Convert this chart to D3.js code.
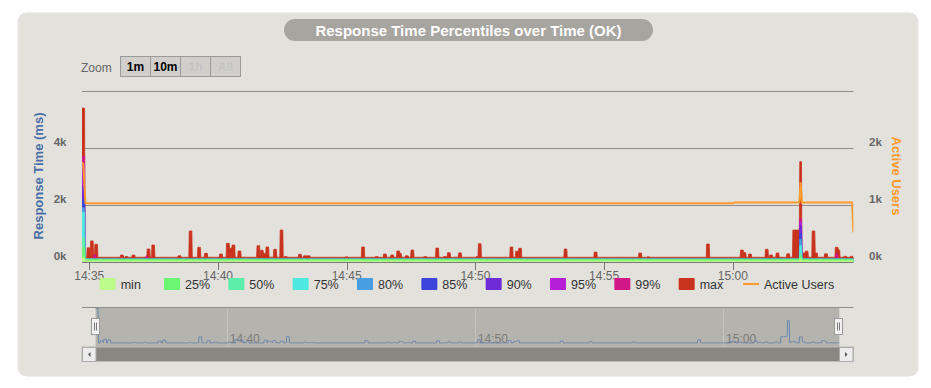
<!DOCTYPE html>
<html>
<head>
<meta charset="utf-8">
<script src="https://cdn.jsdelivr.net/npm/d3@7"></script>
<style>
  body { margin: 0; background: #fff; font-family: "Liberation Sans", Arial, sans-serif; }
</style>
</head>
<body>
<div id="chart"></div>
<script>
// Response time percentiles (ms) per second
const startClock = [14, 34, 43];
const durationSec = 1798;

const percentileNames = ["min", "25%", "50%", "75%", "80%", "85%", "90%", "95%", "99%", "max"];
const percentileColors = ["#bbfb8b", "#6cf573", "#5eeeab", "#4de9e0", "#479fe2", "#3b45dd", "#6e2bd7", "#b51fd5", "#d11889", "#c9321c"];
const usersColor = "#ff9a2e";

// quiet level of each percentile between bursts
const baseline = [40, 100, 100, 100, 102, 104, 106, 108, 112, 165];
// burst at the very start (seconds 0..6) and at ~15:02:38
const startBurst = [150, 500, 870, 1750, 1900, 2200, 2650, 3400, 3700, 5400];
const lateBurst = [100, 200, 300, 580, 800, 1000, 1280, 1400, 1520, 3520];
const startBurstSecs = [0, 6];
const lateBurstSecs = [1673, 1677];

// max spikes: seconds after start, ms
const maxSpikeTimes = [15, 23, 33, 93, 104, 120, 155, 166, 227, 253, 273, 289, 324, 340, 347, 353, 367, 378,
  411, 419, 424, 432, 441, 450, 456, 465, 475, 508, 520, 528, 617, 646, 655, 687, 706, 723, 737, 741, 757,
  770, 782, 800, 828, 846, 855, 870, 881, 922, 927, 986, 1001, 1014, 1021, 1109, 1127, 1197, 1301, 1320,
  1365, 1417, 1438, 1459, 1538, 1544, 1557, 1596, 1606, 1621, 1646, 1660, 1665, 1670, 1683, 1689, 1705,
  1711, 1734, 1759, 1763, 1779, 1794];
const maxSpikeValues = [500, 740, 620, 245, 190, 245, 456, 597, 222, 1088, 515, 305, 280, 655, 480, 597, 386, 170,
  573, 410, 300, 527, 170, 445, 170, 1123, 190, 270, 220, 220, 180, 160, 527, 190, 280, 245, 386, 300, 220,
  420, 160, 190, 490, 190, 327, 170, 320, 190, 643, 170, 527, 375, 480, 150, 456, 350, 315, 180,
  160, 160, 160, 632, 420, 330, 280, 445, 245, 315, 290, 1120, 1120, 1120, 315, 380, 1088,
  315, 290, 515, 420, 200, 200];
// small 99% blips
const p99BlipTimes = [30, 151, 1759];
const p99BlipValues = [260, 200, 300];

// active users
const userTimes = [0, 3, 8, 1518, 1522, 1672, 1675, 1678, 1795, 1798];
const userValues = [1750, 1720, 1030, 1030, 1045, 1045, 1400, 1045, 1045, 520];

const leftTicks = [0, 2000, 4000, 6000];
const rightTicks = [0, 1000, 2000, 3000];
const zoomButtons = ["1m", "10m", "1h", "All"];
const zoomEnabled = [true, true, false, false];

// ---------- build series ----------
const t0 = new Date(2024, 0, 1, startClock[0], startClock[1], startClock[2]);
const toDate = s => new Date(t0.getTime() + s * 1000);

const series = percentileNames.map((n, i) => d3.range(durationSec + 1).map(() => baseline[i]));
function setAt(i, s, v) {
  if (s >= 0 && s <= durationSec) series[i][s] = Math.max(series[i][s], v);
}
maxSpikeTimes.forEach((t, k) => {
  for (let d = -3; d <= 3; d++) setAt(9, t + d, maxSpikeValues[k]);
});
p99BlipTimes.forEach((t, k) => {
  for (let d = -2; d <= 2; d++) setAt(8, t + d, p99BlipValues[k]);
});
[[startBurstSecs, startBurst], [lateBurstSecs, lateBurst]].forEach(([secs, vals]) => {
  for (let s = secs[0]; s <= secs[1]; s++) vals.forEach((v, i) => setAt(i, s, v));
});

// ---------- layout ----------
const W = 931, H = 388;
const plot = { left: 82, right: 853.4, top: 91, bottom: 262 };
const nav = { left: 82, right: 853.4, top: 307.5, bottom: 347, maskL: 95.6, maskR: 839.3 };

const svg = d3.select("#chart").append("svg")
  .attr("width", W).attr("height", H)
  .style("font-family", "'Liberation Sans', Arial, sans-serif");

// container box
svg.append("rect")
  .attr("x", 17.5).attr("y", 12.5).attr("width", 901).attr("height", 364)
  .attr("rx", 9).attr("fill", "#e2e1dc");

// title pill
const title = "Response Time Percentiles over Time (OK)";
svg.append("rect")
  .attr("x", 284).attr("y", 19).attr("width", 369).attr("height", 22)
  .attr("rx", 11).attr("fill", "#a7a59f");
svg.append("text")
  .attr("x", 468.5).attr("y", 35.5).attr("text-anchor", "middle")
  .attr("fill", "#fff").attr("font-weight", "bold").attr("font-size", "15px")
  .text(title);

// zoom buttons
svg.append("text").attr("x", 81).attr("y", 72).attr("fill", "#666").attr("font-size", "12px").text("Zoom");
const btnX = d3.scaleBand().domain(zoomButtons).range([120.5, 240.5]);
const btn = svg.append("g").selectAll("g").data(zoomButtons).join("g");
btn.append("rect")
  .attr("x", d => btnX(d)).attr("y", 56.5).attr("width", btnX.bandwidth()).attr("height", 20)
  .attr("fill", "#d0cfcb").attr("stroke", "#9a9a9a");
btn.append("text")
  .attr("x", d => btnX(d) + btnX.bandwidth() / 2).attr("y", 71)
  .attr("text-anchor", "middle").attr("font-size", "12px").attr("font-weight", "bold")
  .attr("fill", (d, i) => zoomEnabled[i] ? "#000" : "#c4c4c4")
  .text(d => d);

// ---------- scales ----------
const x = d3.scaleTime().domain([t0, toDate(durationSec)]).range([plot.left, plot.right]);
const yL = d3.scaleLinear().domain([0, 6000]).range([plot.bottom, plot.top]);
const yR = d3.scaleLinear().domain([0, 3000]).range([plot.bottom, plot.top]);

// gridlines
svg.append("g").selectAll("line").data(leftTicks.slice(1)).join("line")
  .attr("x1", plot.left).attr("x2", plot.right)
  .attr("y1", d => Math.round(yL(d)) + 0.5).attr("y2", d => Math.round(yL(d)) + 0.5)
  .attr("stroke", "#8c8c8c");

// left / right tick labels
svg.append("g").selectAll("text").data(leftTicks.slice(0, 3)).join("text")
  .attr("x", 66.5).attr("y", d => yL(d) - 2).attr("text-anchor", "end")
  .attr("font-size", "11.5px").attr("font-weight", "bold").attr("fill", "#666")
  .text(d => d / 1000 + "k");
svg.append("g").selectAll("text").data(rightTicks.slice(0, 3)).join("text")
  .attr("x", 869).attr("y", d => yR(d) - 2)
  .attr("font-size", "11.5px").attr("font-weight", "bold").attr("fill", "#666")
  .text(d => d / 1000 + "k");

// axis titles
svg.append("text")
  .attr("transform", "translate(43,176) rotate(-90)").attr("text-anchor", "middle")
  .attr("font-size", "13px").attr("font-weight", "bold").attr("fill", "#4a6fa5")
  .text("Response Time (ms)");
svg.append("text")
  .attr("transform", "translate(892,176) rotate(90)").attr("text-anchor", "middle")
  .attr("font-size", "13px").attr("font-weight", "bold").attr("fill", usersColor)
  .text("Active Users");

// ---------- series ----------
svg.append("clipPath").attr("id", "plotClip").append("rect")
  .attr("x", plot.left).attr("y", plot.top - 30).attr("width", plot.right - plot.left).attr("height", plot.bottom - plot.top + 30);
const g = svg.append("g").attr("clip-path", "url(#plotClip)");

const area = d3.area()
  .x((d, s) => x(toDate(s)))
  .y0(yL(0))
  .y1(d => yL(d));

for (let i = series.length - 1; i >= 0; i--) {
  g.append("path").datum(series[i])
    .attr("d", area)
    .attr("fill", percentileColors[i])
    .attr("stroke", percentileColors[i]).attr("stroke-width", 0.8);
}

const usersLine = d3.line()
  .x((d, k) => x(toDate(userTimes[k])))
  .y(d => yR(d));
g.append("path").datum(userValues)
  .attr("d", usersLine)
  .attr("fill", "none").attr("stroke", usersColor).attr("stroke-width", 2);

// x axis
svg.append("line")
  .attr("x1", plot.left).attr("x2", plot.right).attr("y1", plot.bottom + 0.5).attr("y2", plot.bottom + 0.5)
  .attr("stroke", "#777");
const xTicks = x.ticks(d3.timeMinute.every(5));
const fmt = d3.timeFormat("%H:%M");
const xt = svg.append("g").selectAll("g").data(xTicks).join("g");
xt.append("line")
  .attr("x1", d => Math.round(x(d)) + 0.5).attr("x2", d => Math.round(x(d)) + 0.5)
  .attr("y1", plot.bottom).attr("y2", plot.bottom + 8).attr("stroke", "#777");
xt.append("text")
  .attr("x", d => x(d)).attr("y", 280).attr("text-anchor", "middle")
  .attr("font-size", "12px").attr("fill", "#666")
  .text(d => fmt(d));

// ---------- legend ----------
const legendItems = percentileNames.map((n, i) => ({ name: n, color: percentileColors[i], kind: "area" }))
  .concat([{ name: "Active Users", color: usersColor, kind: "line" }]);
const lx = d3.scalePoint().domain(legendItems.map(d => d.name)).range([99.7, 743]);
const li = svg.append("g").selectAll("g").data(legendItems).join("g")
  .attr("transform", d => `translate(${lx(d.name)},278)`);
li.filter(d => d.kind === "area").append("rect")
  .attr("width", 16).attr("height", 12).attr("rx", 1).attr("fill", d => d.color);
li.filter(d => d.kind === "line").append("line")
  .attr("x1", 0).attr("x2", 16).attr("y1", 6).attr("y2", 6)
  .attr("stroke", d => d.color).attr("stroke-width", 2);
li.append("text")
  .attr("x", 21).attr("y", 10.5).attr("font-size", "12.5px").attr("fill", "#333")
  .text(d => d.name);

// ---------- navigator ----------
const nx = d3.scaleTime().domain(x.domain()).range([nav.maskL, nav.maskR]);
const ny = d3.scaleLinear().domain([0, 5500]).range([nav.bottom - 3, nav.top]);

svg.append("rect")
  .attr("x", nav.maskL).attr("y", nav.top).attr("width", nav.maskR - nav.maskL).attr("height", nav.bottom - nav.top)
  .attr("fill", "#b4b3ad");
const navTicks = nx.ticks(d3.timeMinute.every(10));
svg.append("g").selectAll("line").data(navTicks).join("line")
  .attr("x1", d => Math.round(nx(d)) + 0.5).attr("x2", d => Math.round(nx(d)) + 0.5)
  .attr("y1", nav.top).attr("y2", nav.bottom).attr("stroke", "#c3c2bd");
svg.append("g").selectAll("text").data(navTicks).join("text")
  .attr("x", d => nx(d) + 3).attr("y", 343).attr("font-size", "12px").attr("fill", "#7d7c78")
  .text(d => fmt(d));

svg.append("path").datum(series[9])
  .attr("d", d3.line().x((d, s) => nx(toDate(s))).y(d => ny(d)))
  .attr("fill", "none").attr("stroke", "#6a87b0").attr("stroke-width", 1);

svg.append("line")
  .attr("x1", nav.left).attr("x2", nav.right).attr("y1", nav.top).attr("y2", nav.top)
  .attr("stroke", "#8d8d8d");

// handles
[nav.maskL, nav.maskR].forEach(hx => {
  const h = svg.append("g").attr("transform", `translate(${Math.round(hx) - 4.5},318.5)`);
  h.append("rect").attr("width", 8).attr("height", 16).attr("fill", "#f2f2f2").attr("stroke", "#999");
  h.append("line").attr("x1", 3).attr("x2", 3).attr("y1", 4).attr("y2", 12).attr("stroke", "#777");
  h.append("line").attr("x1", 5).attr("x2", 5).attr("y1", 4).attr("y2", 12).attr("stroke", "#777");
});

// scrollbar
svg.append("rect")
  .attr("x", nav.left).attr("y", nav.bottom).attr("width", nav.right - nav.left).attr("height", 14.5)
  .attr("fill", "#898782").attr("stroke", "#bbb");
[[nav.left, "l"], [nav.right - 14, "r"]].forEach(([bx, dir]) => {
  const b = svg.append("g").attr("transform", `translate(${Math.round(bx) + 0.5},${nav.bottom + 0.5})`);
  b.append("rect").attr("width", 13.5).attr("height", 14).attr("fill", "#ececec").attr("stroke", "#aaa");
  const pts = dir === "l" ? "8,4.5 5.5,7 8,9.5" : "5.5,4.5 8,7 5.5,9.5";
  b.append("polygon").attr("points", pts).attr("fill", "#555");
});
</script>
</body>
</html>
